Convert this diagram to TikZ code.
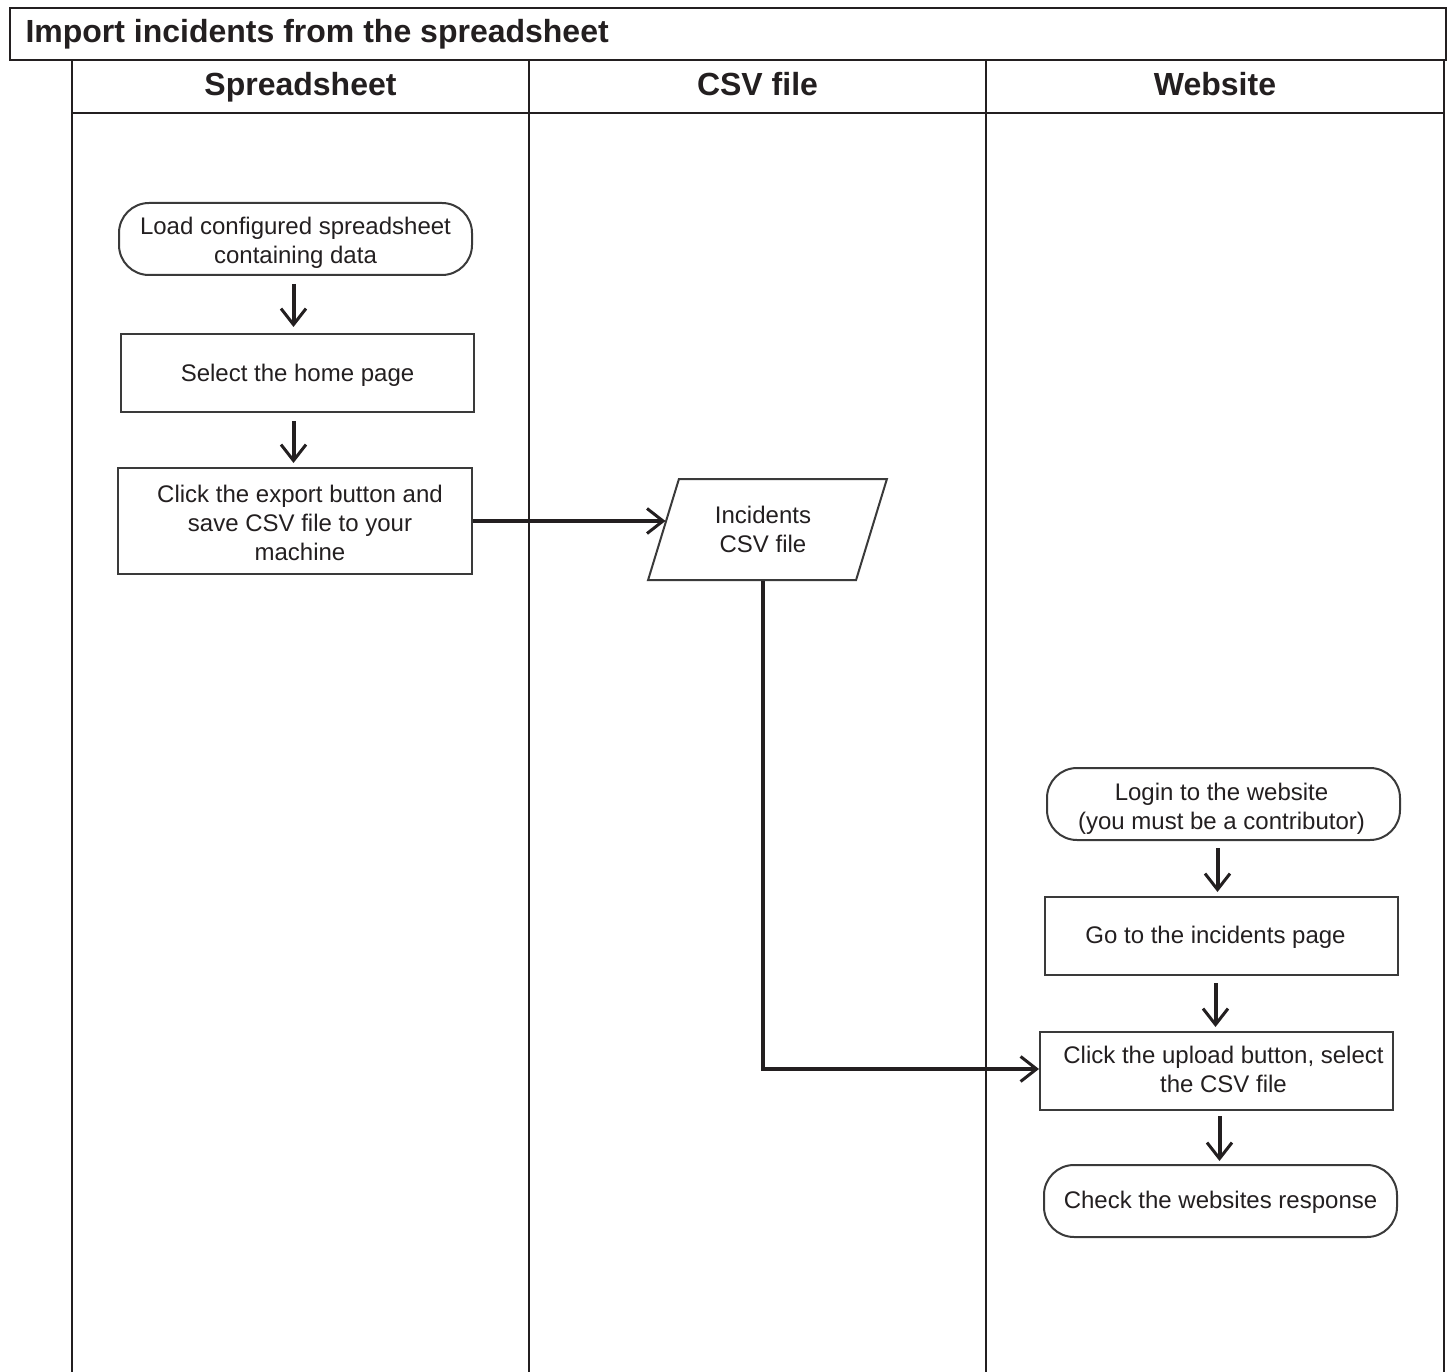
\documentclass[tikz,border=0pt]{standalone}
\usepackage{fontspec}
\setmainfont{Liberation Sans}
\usetikzlibrary{arrows.meta,shapes.geometric}

\definecolor{ink}{HTML}{231F20}
\definecolor{boxline}{HTML}{3A3A3A}

\tikzset{
  frame/.style={draw=ink, line width=2pt},
  lane/.style={draw=ink, line width=2pt},
  head/.style={font=\fontsize{32}{38}\selectfont\bfseries, text=ink, anchor=base},
  txt/.style={font=\fontsize{24}{29}\selectfont, text=ink, align=center},
  procbox/.style={draw=boxline, line width=2pt, rectangle, inner sep=0pt},
  termbox/.style={procbox, rounded corners=30pt},
  databox/.style={txt, draw=boxline, line width=2pt, trapezium,
    trapezium left angle=72, trapezium right angle=108,
    trapezium stretches=true, inner sep=0pt},
  % box caption, set inside the box with a small vertical adjustment
  caption/.style 2 args={label={[txt, yshift=#1]center:{#2}}},
  flow/.style={draw=ink, line width=4pt,
    -{Straight Barb[length=16pt,width=25pt,line width=3pt]}},
}

\begin{document}
\begin{tikzpicture}[x=1pt,y=-1pt]
  \useasboundingbox (0,0) rectangle (1452,1372);

  % title bar
  \draw[frame] (10,8) rectangle (1446,60);
  \node[head, anchor=base west] (title) at (22,43) {Import incidents from the spreadsheet};

  % swimlanes
  \draw[lane] (72,1372) -- (72,60) -- (1444,60) -- (1444,1372);
  \draw[lane] (72,113) -- (1444,113);
  \draw[lane] (529,60) -- (529,1372);
  \draw[lane] (986,60) -- (986,1372);
  \node[head] (hsheet) at (300.5,95.5) {Spreadsheet};
  \node[head] (hcsv) at (757.5,95.5) {CSV file};
  \node[head] (hweb) at (1215,95.5) {Website};

  % spreadsheet lane
  \node[termbox, minimum width=353pt, minimum height=72pt,
    caption={-4pt}{Load configured spreadsheet\\containing data}] (load) at (295.5,239) {};
  \node[procbox, minimum width=353pt, minimum height=78pt,
    caption={-2pt}{Select the home page}] (home) at (297.5,373) {};
  \node[procbox, minimum width=354pt, minimum height=106pt,
    caption={-2pt}{\hspace*{10pt}Click the export button and\\\hspace*{10pt}save CSV file to your\\\hspace*{10pt}machine}] (export) at (295,521) {};

  % csv lane
  \node[databox, minimum width=239pt, minimum height=101pt] (csv) at (767.5,529.5)
    {\hspace*{-9pt}Incidents\\\hspace*{-9pt}CSV file};

  % website lane
  \node[termbox, minimum width=353pt, minimum height=72pt,
    caption={-5pt}{\hspace*{-4pt}Login to the website\\\hspace*{-4pt}(you must be a contributor)}] (login) at (1223.5,804) {};
  \node[procbox, minimum width=353pt, minimum height=78pt,
    caption={-1pt}{\hspace*{-12pt}Go to the incidents page}] (incpage) at (1221.5,936) {};
  \node[procbox, minimum width=353pt, minimum height=78pt,
    caption={1.5pt}{\hspace*{14pt}Click the upload button, select\\\hspace*{14pt}the CSV file}] (upload) at (1216.5,1071) {};
  \node[termbox, minimum width=353pt, minimum height=72pt,
    caption={-1pt}{Check the websites response}] (check) at (1220.5,1201) {};

  % connectors
  \draw[flow, shorten <=8pt, shorten >=6pt] ([xshift=-2pt]load.south) -- ([xshift=-2pt]load.south |- home.north);
  \draw[flow, shorten <=8pt, shorten >=4pt] ([xshift=-4pt]home.south) -- ([xshift=-4pt]home.south |- export.north);
  \draw[flow, shorten >=-3pt] (export.east) -- (export.east -| csv.left side);
  \draw[flow] ([xshift=-4.5pt]csv.south) |- ([yshift=2pt]upload.west);
  \draw[flow, shorten <=7pt, shorten >=4pt] ([xshift=-6pt]login.south) -- ([xshift=-6pt]login.south |- incpage.north);
  \draw[flow, shorten <=7pt, shorten >=4pt] ([xshift=-6pt]incpage.south) -- ([xshift=-6pt]incpage.south |- upload.north);
  \draw[flow, shorten <=5pt, shorten >=3pt] ([xshift=3pt]upload.south) -- ([xshift=3pt]upload.south |- check.north);
\end{tikzpicture}
\end{document}
